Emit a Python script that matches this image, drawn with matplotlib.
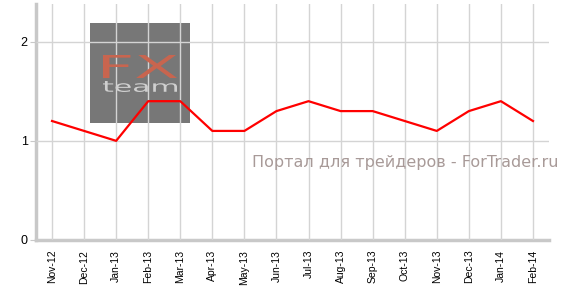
import matplotlib
matplotlib.use("Agg")
import matplotlib.pyplot as plt
from matplotlib.patches import Rectangle, PathPatch
from matplotlib.textpath import TextPath
from matplotlib.font_manager import FontProperties
from matplotlib.transforms import Affine2D

# data
months = ["Nov-12", "Dec-12", "Jan-13", "Feb-13", "Mar-13", "Apr-13", "May-13", "Jun-13",
          "Jul-13", "Aug-13", "Sep-13", "Oct-13", "Nov-13", "Dec-13", "Jan-14", "Feb-14"]
values = [1.2, 1.1, 1.0, 1.4, 1.4, 1.1, 1.1, 1.3, 1.4, 1.3, 1.3, 1.2, 1.1, 1.3, 1.4, 1.2]
yticks = [0, 1, 2]

plt.rcParams["font.family"] = ["Liberation Sans", "DejaVu Sans"]

W, H = 567, 303
fig = plt.figure(figsize=(W / 100, H / 100), dpi=100)
ax = fig.add_axes([36 / W, 1 - 240 / H, (549 - 36) / W, (240 - 4) / H])

x = list(range(len(months)))


def logo_word(text, color, x0, x1, ytop, ybot):
    # stretch a text path into a pixel box (y measured from the top)
    tp = TextPath((0, 0), text, size=10, prop=FontProperties(family="DejaVu Sans"))
    bb = tp.get_extents()
    sx = (x1 - x0) / bb.width
    sy = (ybot - ytop) / bb.height
    tr = Affine2D().translate(-bb.x0, -bb.y0).scale(sx, sy).translate(x0, H - ybot)
    fig.patches.append(PathPatch(tr.transform_path(tp), facecolor=color,
                                 edgecolor="none", transform=None, zorder=5))


# logo box behind the grid
ax.add_patch(Rectangle((90 / W, 1 - 123 / H), 100 / W, 100 / H,
                       transform=fig.transFigure, facecolor="#777777",
                       edgecolor="none", zorder=0))
logo_word("FX", "#c8654f", 103, 177, 55, 78)
logo_word("team", "#cfcfcf", 103, 177, 81, 92)

ax.set_axisbelow(False)
ax.grid(True, color="#d4d4d4", linewidth=1.0, zorder=1)
ax.plot(x, values, color="#ff0000", linewidth=1.6, zorder=3)

ax.text(405 / W, 1 - 162 / H, "Портал для трейдеров - ForTrader.ru",
        transform=fig.transFigure, color="#a89a98", fontsize=11.5,
        family="DejaVu Sans", ha="center", va="center", zorder=4)

ax.set_xlim(-0.5, 15.5)
ax.set_ylim(0, 2.38)
ax.set_xticks(x)
ax.set_xticklabels(months, rotation=90, fontsize=7.5)
ax.set_yticks(yticks)
ax.set_yticklabels([str(t) for t in yticks], fontsize=9)

for s in ["top", "right"]:
    ax.spines[s].set_visible(False)
for s in ["left", "bottom"]:
    ax.spines[s].set_color("#c8c8c8")
    ax.spines[s].set_linewidth(2.5)
ax.tick_params(axis="x", length=0, pad=7)
ax.tick_params(axis="y", length=4, color="#c8c8c8", pad=2)
ax.patch.set_alpha(0)

fig.savefig("out.png", dpi=100)
